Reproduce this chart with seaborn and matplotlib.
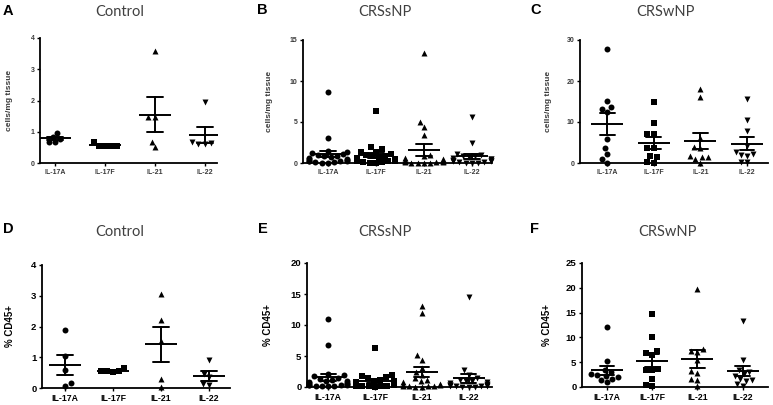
import numpy as np
import pandas as pd
import matplotlib
matplotlib.use("Agg")
import matplotlib.pyplot as plt
import seaborn as sns

# ---------------- data ----------------
cats = ["IL-17A", "IL-17F", "IL-21", "IL-22"]
titles = ["Control", "CRSsNP", "CRSwNP", "Control", "CRSsNP", "CRSwNP"]
letters = ["A", "B", "C", "D", "E", "F"]
ylabel_top = "cells/mg tissue"
ylabel_bottom = "% CD45+"

# A: Control, cells/mg tissue
a_17a = [0.97, 0.84, 0.78, 0.68, 0.66]
a_17f = [0.55, 0.54, 0.55, 0.53, 0.68]
a_21 = [3.6, 1.48, 1.48, 0.68, 0.51]
a_22 = [1.95, 0.65, 0.62, 0.62, 0.68]
# B: CRSsNP, cells/mg tissue
b_17a = [8.7, 3.1, 1.5, 1.3, 1.2, 1.1, 1.0, 0.9, 0.8, 0.7, 0.6, 0.5, 0.5, 0.4, 0.3, 0.3, 0.2, 0.2, 0.1, 0.1, 0.05, 0.05]
b_17f = [6.3, 1.9, 1.7, 1.4, 1.3, 1.1, 1.0, 0.9, 0.8, 0.7, 0.6, 0.5, 0.5, 0.4, 0.3, 0.3, 0.2, 0.2, 0.1, 0.1, 0.05, 0.05]
b_21 = [13.4, 5.0, 4.4, 3.4, 1.0, 0.8, 0.6, 0.5, 0.4, 0.3, 0.3, 0.2, 0.2, 0.1, 0.1, 0.1, 0.05, 0.05, 0.05, 0.05]
b_22 = [5.6, 2.5, 1.1, 1.0, 0.9, 0.8, 0.7, 0.6, 0.5, 0.5, 0.4, 0.3, 0.3, 0.2, 0.2, 0.1, 0.1, 0.05, 0.05, 0.05]
# C: CRSwNP, cells/mg tissue
c_17a = [27.7, 15.2, 13.6, 13.2, 12.5, 5.8, 3.6, 2.2, 0.9, 0.1]
c_17f = [14.8, 9.8, 7.0, 7.0, 3.6, 3.6, 1.4, 1.7, 0.1, 0.3]
c_21 = [18.0, 16.2, 6.0, 4.0, 3.6, 1.6, 1.5, 1.5, 1.0, 0.1]
c_22 = [15.5, 10.6, 7.7, 4.2, 2.8, 2.2, 2.0, 1.7, 0.3, 0.2]
# D: Control, % CD45+
d_17a = [1.89, 1.03, 0.6, 0.16, 0.08]
d_17f = [0.55, 0.55, 0.52, 0.55, 0.66]
d_21 = [3.05, 2.22, 1.52, 0.28, 0.03]
d_22 = [0.92, 0.45, 0.35, 0.12, 0.1]
# E: CRSsNP, % CD45+
e_17a = [11.0, 6.8, 2.1, 1.9, 1.7, 1.5, 1.3, 1.2, 1.0, 0.9, 0.8, 0.7, 0.6, 0.5, 0.4, 0.4, 0.3, 0.3, 0.2, 0.2, 0.1, 0.1]
e_17f = [6.3, 1.9, 1.8, 1.6, 1.4, 1.2, 1.0, 0.9, 0.8, 0.7, 0.6, 0.5, 0.5, 0.4, 0.3, 0.3, 0.2, 0.2, 0.1, 0.1, 0.1, 0.05]
e_21 = [13.1, 12.0, 5.1, 4.4, 3.0, 2.5, 2.0, 1.5, 1.2, 1.0, 0.8, 0.5, 0.4, 0.3, 0.2, 0.2, 0.1, 0.1, 0.05, 0.05]
e_22 = [14.5, 2.7, 2.0, 1.5, 1.2, 1.0, 0.9, 0.8, 0.6, 0.5, 0.4, 0.3, 0.3, 0.2, 0.2, 0.1, 0.1, 0.05, 0.05, 0.05]
# F: CRSwNP, % CD45+
f_17a = [12.1, 5.2, 3.5, 3.0, 2.6, 2.4, 2.2, 2.0, 1.7, 1.5, 1.0]
f_17f = [14.8, 10.0, 7.3, 6.9, 6.5, 3.6, 3.5, 3.4, 1.6, 0.5, 0.3]
f_21 = [19.8, 7.6, 7.3, 7.0, 5.5, 3.2, 2.8, 1.7, 1.5, 0.2]
f_22 = [13.4, 5.4, 3.5, 3.0, 2.6, 2.3, 1.6, 1.5, 1.3, 0.6, 0.3]

panel_data = [
    [a_17a, a_17f, a_21, a_22],
    [b_17a, b_17f, b_21, b_22],
    [c_17a, c_17f, c_21, c_22],
    [d_17a, d_17f, d_21, d_22],
    [e_17a, e_17f, e_21, e_22],
    [f_17a, f_17f, f_21, f_22],
]
yticks = [[0, 1, 2, 3, 4], [0, 5, 10, 15], [0, 10, 20, 30],
          [0, 1, 2, 3, 4], [0, 5, 10, 15, 20], [0, 5, 10, 15, 20, 25]]

# ---------------- layout (pixels) ----------------
W, H = 773, 405
# left, right, top, bottom of each axes
boxes = [(40, 217, 38, 163), (303, 492, 40, 163), (580, 768, 40, 163),
         (42, 230, 265, 388), (307, 492, 263, 387), (582, 768, 263, 387)]
xlims = [(-0.3, 3.25), (-0.52, 3.42), (-0.58, 3.45),
         (-0.48, 3.44), (-0.45, 3.5), (-0.55, 3.56)]
title_pos = [(120, 12), (385, 12), (665, 12), (120, 232), (385, 232), (667, 232)]
letter_pos = [(3, 11), (257, 10), (530, 10), (3, 229), (258, 229), (530, 229)]
ylabel_x = [13, 273, 552, 15, 273, 552]
markers = ["o", "s", "^", "v"]

sns.set_theme(style="ticks")
plt.rcParams["font.family"] = ["Liberation Sans", "DejaVu Sans"]

fig = plt.figure(figsize=(W / 100, H / 100), dpi=100)


def rect(l, r, t, b):
    return [l / W, 1 - b / H, (r - l) / W, (b - t) / H]


for p in range(6):
    top = p < 3
    l, r, t, b = boxes[p]
    ax = fig.add_axes(rect(l, r, t, b))
    groups = panel_data[p]
    df = pd.DataFrame({
        "cytokine": np.repeat(cats, [len(g) for g in groups]),
        "value": np.concatenate([np.asarray(g, float) for g in groups]),
    })
    ax.set_ylim(yticks[p][0], yticks[p][-1])
    ax.set_xlim(*xlims[p])
    msize = 4.3
    for i, c in enumerate(cats):
        sns.swarmplot(data=df[df["cytokine"] == c], x="cytokine", y="value",
                      order=cats, marker=markers[i], color="black",
                      size=msize, linewidth=0, ax=ax, clip_on=False,
                      warn_thresh=1.0, zorder=3)
    sns.pointplot(data=df, x="cytokine", y="value", order=cats,
                  errorbar="se", capsize=0.32, marker="_", markersize=23,
                  markeredgewidth=1.4, linestyle="none", color="black",
                  err_kws={"linewidth": 1.4}, ax=ax, zorder=4)
    ax.set_xlim(*xlims[p])
    ax.set_ylim(yticks[p][0], yticks[p][-1])
    ax.set_yticks(yticks[p])
    sns.despine(ax=ax)
    for s in ["left", "bottom"]:
        ax.spines[s].set_linewidth(1.3)
        ax.spines[s].set_color("black")
    ax.set_xlabel("")
    tick_color = "#3a3a3a" if top else "black"
    ax.tick_params(axis="both", length=2.5, width=1.0, pad=1.5, colors="black")
    ax.tick_params(axis="x", labelsize=5 if top else 6.3, labelcolor=tick_color)
    ax.tick_params(axis="y", labelsize=5 if top else 6.8, labelcolor=tick_color)
    for lab in ax.get_xticklabels() + ax.get_yticklabels():
        lab.set_fontweight("bold")
    if top:
        ax.set_ylabel(ylabel_top, fontsize=6, fontweight="bold", color="#3a3a3a")
    else:
        ax.set_ylabel(ylabel_bottom, fontsize=7, fontweight="bold", color="black")
    ax.yaxis.set_label_coords((ylabel_x[p] - l) / (r - l), 0.5)

    tx, ty = title_pos[p]
    fig.text(tx / W, 1 - ty / H, titles[p], ha="center", va="center",
             fontsize=10.5, color="#404040", family=["Lato", "DejaVu Sans"])
    lx, ly = letter_pos[p]
    fig.text(lx / W, 1 - ly / H, letters[p], ha="left", va="center",
             fontsize=10.5, fontweight="bold", color="black")

fig.savefig("out.png", dpi=100)
